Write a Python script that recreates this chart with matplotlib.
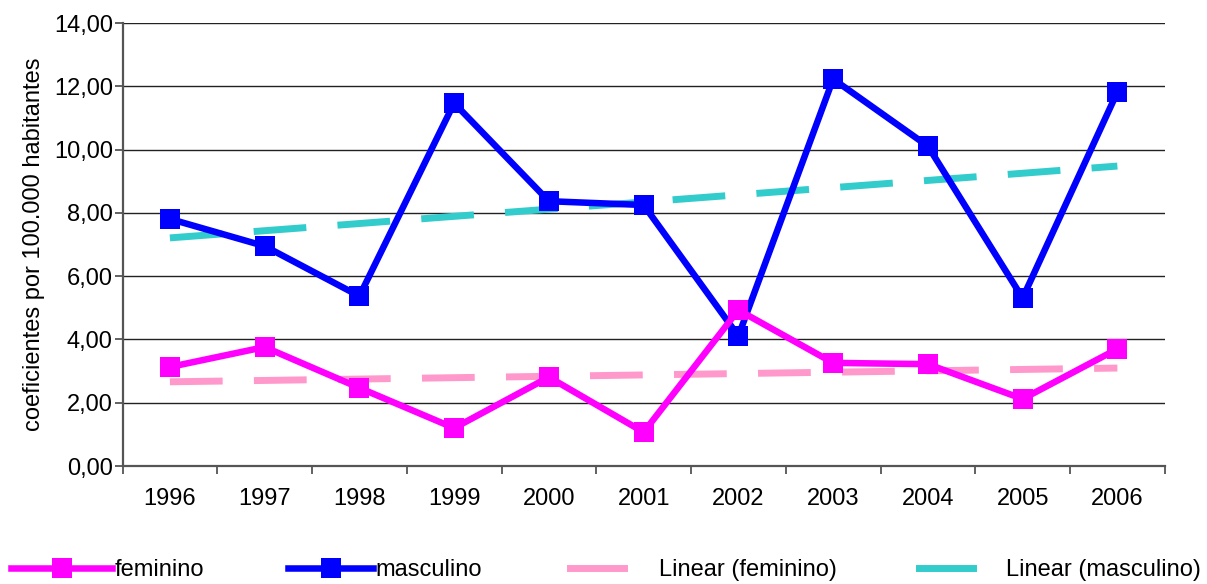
import numpy as np
import matplotlib
matplotlib.use("Agg")
import matplotlib.pyplot as plt
from matplotlib.lines import Line2D
from matplotlib.ticker import FuncFormatter, MultipleLocator

plt.rcParams['font.family'] = ['Liberation Sans', 'DejaVu Sans']

years = ["1996", "1997", "1998", "1999", "2000", "2001", "2002", "2003", "2004", "2005", "2006"]
feminino = [3.13, 3.76, 2.47, 1.20, 2.81, 1.07, 4.93, 3.26, 3.22, 2.12, 3.70]
masculino = [7.81, 6.95, 5.37, 11.47, 8.37, 8.25, 4.11, 12.23, 10.11, 5.31, 11.82]

x = np.arange(len(years))

def linear_trend(values):
    slope, intercept = np.polyfit(x, values, 1)
    return slope * x + intercept

FS = 17

fig = plt.figure(figsize=(12.07, 5.84), dpi=100)
ax = fig.add_axes([0.1015, 0.202, 0.8635, 0.7585])

fem_color = "#FF00FF"
mas_color = "#0000FF"
fem_trend_color = "#FF99CC"
mas_trend_color = "#33CCCC"

trend_style = dict(lw=5.0, dashes=(7.6, 4.5), solid_capstyle='butt',
                   dash_capstyle='butt', zorder=2)
ax.plot(x, linear_trend(feminino), color=fem_trend_color, **trend_style)
ax.plot(x, linear_trend(masculino), color=mas_trend_color, **trend_style)
ax.plot(x, masculino, color=mas_color, lw=4.7, marker='s', markersize=14,
        markeredgewidth=0, zorder=3)
ax.plot(x, feminino, color=fem_color, lw=4.7, marker='s', markersize=14,
        markeredgewidth=0, zorder=4)

ax.set_xlim(-0.5, len(years) - 0.5)
ax.set_ylim(0, 14)
ax.yaxis.set_major_locator(MultipleLocator(2))
ax.yaxis.set_major_formatter(FuncFormatter(lambda v, p: f"{v:.2f}".replace(".", ",")))
ax.set_xticks(x)
ax.set_xticklabels(years)
ax.set_xticks(np.arange(-0.5, len(years)), minor=True)
ax.tick_params(axis='x', which='major', length=0, pad=16, labelsize=FS)
ax.tick_params(axis='x', which='minor', length=6, width=1.3, color="#555555", direction='out')
ax.tick_params(axis='y', length=6, width=1.3, color="#555555", labelsize=FS, pad=1)

ax.grid(axis='y', color="#222222", lw=1.0, zorder=0)
ax.set_axisbelow(True)
for side in ("top", "right"):
    ax.spines[side].set_visible(False)
for side in ("left", "bottom"):
    ax.spines[side].set_color("#555555")
    ax.spines[side].set_linewidth(1.6)

ax.set_ylabel("coeficientes por 100.000 habitantes", fontsize=FS, labelpad=6)

# Legend row below the plot, one entry per series
entries = [
    (Line2D([], [], color=fem_color, lw=4.7, marker='s', markersize=14, markeredgewidth=0),
     "feminino", 0.009, 4.3, 0.1),
    (Line2D([], [], color=mas_color, lw=4.7, marker='s', markersize=14, markeredgewidth=0),
     "masculino", 0.239, 3.6, 0.1),
    (Line2D([], [], color=fem_trend_color, lw=5.0),
     "Linear (feminino)", 0.472, 2.3, 1.5),
    (Line2D([], [], color=mas_trend_color, lw=5.0),
     "Linear (masculino)", 0.761, 2.3, 1.4),
]
for handle, label, xpos, hl, pad in entries:
    fig.legend([handle], [label], loc='center left', bbox_to_anchor=(xpos, 0.024),
               frameon=False, fontsize=FS, handlelength=hl, handletextpad=pad,
               borderaxespad=0, borderpad=0)

fig.savefig("out.png", dpi=100)
